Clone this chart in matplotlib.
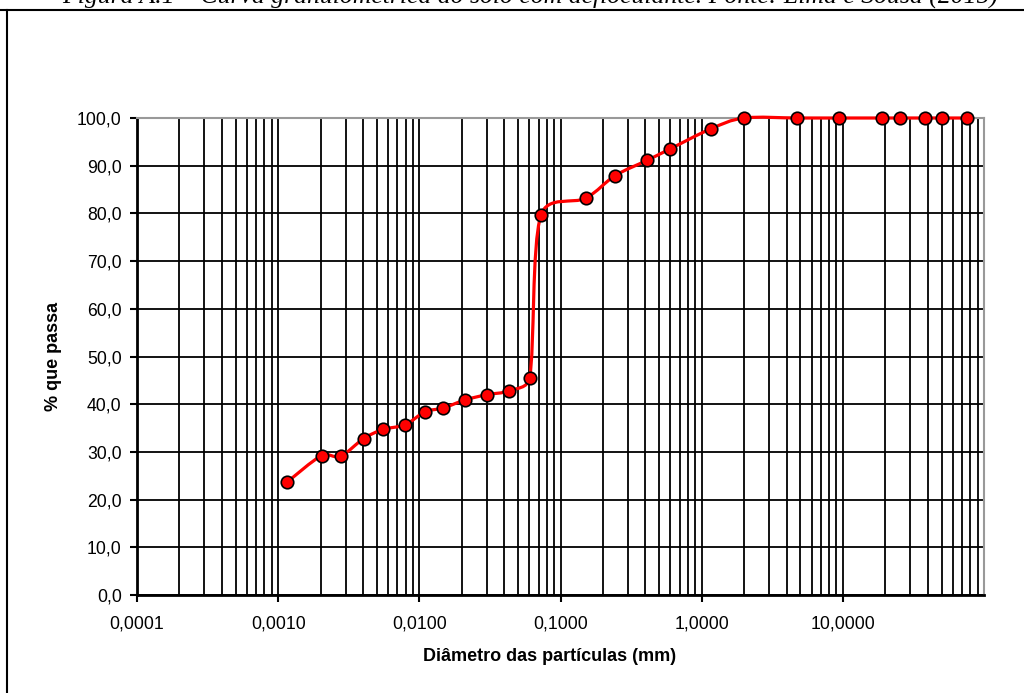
import numpy as np
import matplotlib
matplotlib.use("Agg")
import matplotlib.pyplot as plt
from matplotlib.path import Path
from matplotlib.patches import PathPatch
from matplotlib.lines import Line2D
from matplotlib.ticker import FixedLocator, FuncFormatter, LogLocator, NullFormatter

plt.rcParams["font.family"] = ["Liberation Sans", "DejaVu Sans"]

# diâmetro (mm) e % que passa
diametro = [0.00116, 0.00203, 0.00277, 0.00403, 0.00552, 0.00794, 0.01096,
            0.01476, 0.0211, 0.0301, 0.0433, 0.0604, 0.0726, 0.151, 0.243,
            0.409, 0.596, 1.156, 2.0, 4.76, 9.4, 18.9, 25.4, 38.1, 50.8, 76.2]
passa = [23.7, 29.2, 29.1, 32.8, 34.7, 35.7, 38.4, 39.2, 40.9, 42.0, 42.8,
         45.5, 79.6, 83.2, 87.9, 91.1, 93.5, 97.7, 100.0, 100.0, 100.0,
         100.0, 100.0, 100.0, 100.0, 100.0]

xticks = [0.0001, 0.001, 0.01, 0.1, 1, 10]
yticks = list(range(0, 101, 10))

titulo = "Figura A.1 – Curva granulométrica do solo com defloculante. Fonte: Lima e Sousa (2015)"


def smooth_path(x, y, xscale=29.6):
    # bezier tipo "linha suavizada" do Excel, em log10(x); xscale ~ razão px/década : px/unidade
    lx = np.log10(x)
    pts = np.column_stack([lx * xscale, y])
    n = len(pts)

    def clamp(arm, seg):
        la = np.hypot(*arm)
        lim = 0.45 * np.hypot(*seg)
        return arm * (lim / la) if la > lim and la > 0 else arm

    verts = [pts[0]]
    codes = [Path.MOVETO]
    for i in range(n - 1):
        p0 = pts[i - 1] if i > 0 else pts[i]
        p1 = pts[i]
        p2 = pts[i + 1]
        p3 = pts[i + 2] if i + 2 < n else pts[i + 1]
        c1 = p1 + clamp((p2 - p0) / 6, p2 - p1)
        c2 = p2 - clamp((p3 - p1) / 6, p2 - p1)
        verts += [c1, c2, p2]
        codes += [Path.CURVE4] * 3
    verts = np.array(verts)
    verts[:, 0] = 10 ** (verts[:, 0] / xscale)
    return Path(verts, codes)


fig = plt.figure(figsize=(10.24, 6.93), dpi=100)
ax = fig.add_axes([137 / 1024, 98 / 693, 847 / 1024, 477 / 693])

ax.set_xscale("log")
ax.set_xlim(0.0001, 100)
ax.set_ylim(0, 100)

ax.xaxis.set_major_locator(FixedLocator(xticks))
ax.xaxis.set_minor_locator(LogLocator(base=10, subs=np.arange(2, 10), numticks=20))
ax.xaxis.set_major_formatter(FuncFormatter(lambda v, _: f"{v:.4f}".replace(".", ",")))
ax.xaxis.set_minor_formatter(NullFormatter())
ax.set_yticks(yticks)
ax.yaxis.set_major_formatter(FuncFormatter(lambda v, _: f"{v:.1f}".replace(".", ",")))

ax.grid(which="both", axis="x", color="black", linewidth=1.3)
ax.grid(which="major", axis="y", color="black", linewidth=1.3)
ax.set_axisbelow(True)

ax.tick_params(axis="both", which="major", direction="out", length=5, width=1.5,
               labelsize=12.7, colors="black", pad=6)
ax.tick_params(axis="x", which="major", pad=10)
ax.tick_params(axis="x", which="minor", length=0)

for s in ["top", "right"]:
    ax.spines[s].set_color("#999999")
    ax.spines[s].set_linewidth(1.5)
for s in ["left", "bottom"]:
    ax.spines[s].set_color("black")
    ax.spines[s].set_linewidth(2)

patch = PathPatch(smooth_path(diametro, passa), facecolor="none", edgecolor="#ff0000",
                  linewidth=2.3, clip_on=False, zorder=3)
ax.add_patch(patch)
ax.plot(diametro, passa, linestyle="none", marker="o", markersize=9,
        markerfacecolor="#ff0000", markeredgecolor="black", markeredgewidth=1.2,
        clip_on=False, zorder=4)

ax.set_xlabel("Diâmetro das partículas (mm)", fontsize=13, fontweight="bold")
ax.set_ylabel("% que passa", fontsize=13, fontweight="bold")
ax.xaxis.set_label_coords(0.4876, -0.112)
ax.yaxis.set_label_coords(-0.088, 0.5)

# moldura da figura e legenda cortada no topo, como na imagem original
fig.add_artist(Line2D([0, 1], [1 - 10 / 693, 1 - 10 / 693], color="black", linewidth=1.5))
fig.add_artist(Line2D([7 / 1024, 7 / 1024], [0, 1 - 10 / 693], color="black", linewidth=1.5))
fig.text(530 / 1024, 1 - 3 / 693, titulo, ha="center", va="baseline",
         fontsize=18.5, style="italic", family=["Liberation Serif", "DejaVu Serif"])

fig.savefig("out.png", dpi=100)
